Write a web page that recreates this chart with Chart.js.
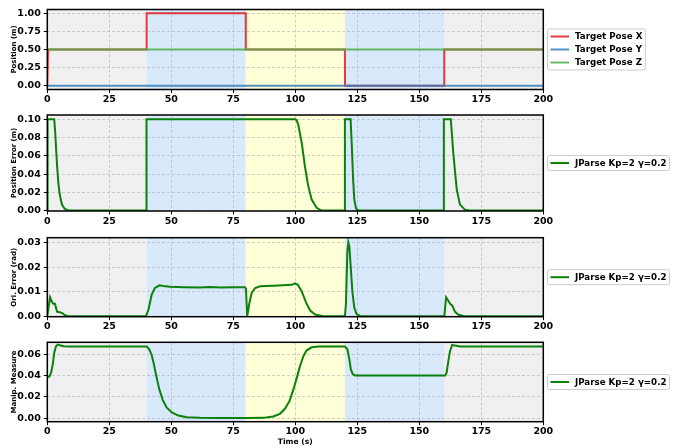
<!DOCTYPE html>
<html>
<head>
<meta charset="utf-8">
<script src="https://cdn.jsdelivr.net/npm/chart.js@4.4.0/dist/chart.umd.min.js"></script>
<style>
  body { margin: 0; background: #fff; }
  #wrap { position: relative; width: 675px; height: 447px; }
  #wrap canvas { position: absolute; left: 0; top: 0; }
</style>
</head>
<body>
<div id="wrap">
  <canvas id="c1" width="675" height="447"></canvas>
  <canvas id="c2" width="675" height="447"></canvas>
  <canvas id="c3" width="675" height="447"></canvas>
  <canvas id="c4" width="675" height="447"></canvas>
</div>
<script>
// x axis ticks (time, s)
const timeTicks = [0, 25, 50, 75, 100, 125, 150, 175, 200];

// background phases
const phaseStart = [0, 40, 80, 120, 160];
const phaseEnd = [40, 80, 120, 160, 200];
const phaseColor = ['#f0f0f0', '#d9e9fc', '#ffffd8', '#d9e9fc', '#f0f0f0'];

// panel 1: target pose
const poseXT = [0, 0.3, 40, 40.05, 80, 80.05, 120, 120.05, 160, 160.05, 200];
const poseXV = [0, 0.5, 0.5, 1, 1, 0.5, 0.5, 0, 0, 0.5, 0.5];
const poseYT = [0, 200];
const poseYV = [0, 0];
const poseZT = [0, 200];
const poseZV = [0.5, 0.5];
const poseTicks = [0, 0.25, 0.5, 0.75, 1];

// panel 2: position error
const posErrT = [0, 0.1, 2.8, 3.2, 3.6, 4.0, 4.4, 4.9, 5.4, 6.0, 7.0, 8.5, 39.9, 40.0,
  100.0, 100.5, 101.2, 102.6, 103.9, 105.2, 106.6, 108.6, 110.6, 119.9, 120.0,
  122.3, 122.8, 123.3, 123.8, 124.5, 125.5, 159.8, 159.9, 162.7, 163.7, 165.1, 166.4, 168.4, 170.0, 200];
const posErrV = [0, 0.1, 0.1, 0.085, 0.065, 0.047, 0.032, 0.02, 0.012, 0.006, 0.002, 0, 0, 0.1,
  0.1, 0.099, 0.094, 0.074, 0.048, 0.027, 0.012, 0.003, 0, 0, 0.1,
  0.1, 0.07, 0.035, 0.012, 0.002, 0, 0, 0.1, 0.1, 0.063, 0.023, 0.0065, 0.001, 0, 0];
const posErrTicks = [0, 0.02, 0.04, 0.06, 0.08, 0.1];

// panel 3: orientation error
const oriT = [0, 1.1, 1.8, 2.4, 3.1, 3.5, 4.0, 5.1, 6.2, 7.1, 8.5, 39.8, 40.8, 42.1, 43.4, 45.2,
  46.8, 49.5, 55, 61.6, 65.6, 70, 75, 79.7, 80.1, 80.6, 81.5, 82.4, 83.8, 85.8, 91.2, 98.6,
  99.9, 101.0, 102.6, 104.4, 106.0, 108.0, 110.7, 120.0, 120.4, 121.0, 121.4, 121.8, 122.3,
  123.0, 123.8, 124.7, 126.1, 160.1, 160.8, 161.4, 162.4, 163.3, 164.4, 165.7, 167.7, 200];
const oriV = [0, 0.0077, 0.006, 0.0051, 0.0051, 0.0034, 0.0018, 0.0016, 0.0012, 0.0004, 0, 0, 0.0027, 0.0088, 0.0115, 0.0126,
  0.0123, 0.012, 0.0118, 0.0117, 0.0119, 0.0117, 0.0118, 0.0118, 0.0112, 0, 0.0054, 0.0095, 0.0115, 0.0122, 0.0124, 0.0128,
  0.0134, 0.0128, 0.0101, 0.0054, 0.0023, 0.0007, 0.0001, 0, 0.0047, 0.0264, 0.0301, 0.0284, 0.0209,
  0.0101, 0.0034, 0.0009, 0.0001, 0, 0.0077, 0.0068, 0.0051, 0.0043, 0.0018, 0.0007, 0.0001, 0];
const oriTicks = [0, 0.01, 0.02, 0.03];

// panel 4: manipulability
const manT = [0, 0.8, 1.5, 2.2, 2.8, 3.5, 4.2, 5.1, 6.5, 9.1, 40.1, 41.1, 42.1, 43.0, 44.1, 45.2,
  46.5, 48.1, 50.1, 52.8, 56.2, 61.6, 70, 80, 87.1, 91.1, 93.8, 95.8, 97.6, 99.2, 100.6, 101.9,
  103.3, 104.6, 106.6, 109.3, 120.0, 121.0, 121.8, 122.4, 123.1, 124.1, 160.4, 161.0, 161.7,
  162.4, 163.3, 164.4, 166.4, 200];
const manV = [0.0389, 0.039, 0.0426, 0.0505, 0.0616, 0.0676, 0.0692, 0.0685, 0.0676, 0.0673, 0.0673, 0.0647, 0.0594, 0.0505, 0.0379, 0.0268,
  0.0174, 0.0101, 0.0057, 0.0025, 0.0009, 0.0003, 0.0001, 0.0001, 0.0003, 0.0016, 0.0041, 0.0088, 0.0158, 0.0268, 0.0379, 0.049,
  0.0584, 0.0638, 0.0666, 0.0673, 0.0673, 0.0647, 0.0553, 0.0458, 0.0417, 0.0401, 0.04, 0.0426, 0.0537,
  0.0632, 0.0688, 0.0682, 0.0673, 0.0673];
const manTicks = [0, 0.02, 0.04, 0.06];

const jLabel = 'JParse Kp=2 \u03b3=0.2';
const green = '#0b800b';

Chart.defaults.font.family = 'DejaVu Sans';
Chart.defaults.font.weight = 'bold';
Chart.defaults.color = '#000';

function pts(t, v) {
  return t.map((x, i) => ({ x: x, y: v[i] }));
}

// shaded phases behind the grid
const shade = {
  id: 'shade',
  beforeDraw(chart) {
    const ctx = chart.ctx, a = chart.chartArea, xs = chart.scales.x;
    ctx.save();
    for (let i = 0; i < phaseStart.length; i++) {
      const x0 = xs.getPixelForValue(phaseStart[i]);
      const x1 = xs.getPixelForValue(phaseEnd[i]);
      ctx.fillStyle = phaseColor[i];
      ctx.fillRect(x0, a.top, x1 - x0, a.bottom - a.top);
    }
    ctx.restore();
  }
};

// axes frame + boxed legend at the right
const frameLegend = {
  id: 'frameLegend',
  afterDraw(chart) {
    const ctx = chart.ctx, a = chart.chartArea;
    ctx.save();
    ctx.strokeStyle = '#000';
    ctx.lineWidth = 1.5;
    ctx.strokeRect(a.left, a.top, a.right - a.left, a.bottom - a.top);

    const items = chart.data.datasets.filter(d => d.label).sort((p, q) => p.legendIdx - q.legendIdx);
    ctx.font = 'bold 8.7px "DejaVu Sans"';
    let tw = 0;
    items.forEach(d => { tw = Math.max(tw, ctx.measureText(d.label).width); });
    const bx = 547.5, rowH = 13;
    const bh = items.length * rowH + 2;
    const bw = 575 - bx + tw + 3;
    const by = (a.top + a.bottom) / 2 - bh / 2;
    ctx.fillStyle = 'rgba(255,255,255,0.9)';
    ctx.strokeStyle = '#cccccc';
    ctx.lineWidth = 1;
    ctx.beginPath();
    ctx.roundRect(bx, by, bw, bh, 2);
    ctx.fill();
    ctx.stroke();
    items.forEach((d, i) => {
      const cy = by + 7.5 + i * rowH;
      ctx.strokeStyle = d.borderColor;
      ctx.lineWidth = 2;
      ctx.beginPath();
      ctx.moveTo(550.5, cy);
      ctx.lineTo(569, cy);
      ctx.stroke();
      ctx.fillStyle = '#000';
      ctx.textBaseline = 'middle';
      ctx.fillText(d.label, 575, cy + 0.5);
    });
    ctx.restore();
  }
};

function panel(id, datasets, opt) {
  return new Chart(document.getElementById(id), {
    type: 'line',
    data: { datasets: datasets },
    plugins: [shade, frameLegend],
    options: {
      responsive: false,
      animation: false,
      parsing: true,
      layout: { padding: { left: 0, right: 131.7, top: opt.top, bottom: opt.padBottom } },
      elements: { point: { radius: 0 }, line: { tension: 0, borderWidth: 2 } },
      plugins: { legend: { display: false }, tooltip: { enabled: false } },
      scales: {
        x: {
          type: 'linear', min: 0, max: 200,
          afterFit: s => { s.height = opt.xHeight; },
          afterBuildTicks: s => { s.ticks = timeTicks.map(v => ({ value: v })); },
          ticks: { font: { size: 9.5, weight: 'bold' }, padding: 1, maxRotation: 0 },
          grid: { color: 'rgba(170,170,170,0.7)', lineWidth: 0.8, tickColor: '#000', tickLength: 3.5, tickWidth: 1, tickBorderDash: [] },
          border: { display: false, dash: [3, 2] },
          title: opt.xTitle ? { display: true, text: 'Time (s)', font: { size: 7.6, weight: 'bold' }, padding: { top: 0, bottom: 0 } } : { display: false }
        },
        y: {
          min: opt.min, max: opt.max,
          afterFit: s => { s.width = 47.3; },
          afterBuildTicks: s => { s.ticks = opt.ticks.map(v => ({ value: v })); },
          ticks: { font: { size: 9.5, weight: 'bold' }, padding: 3, callback: v => v.toFixed(2) },
          grid: { color: 'rgba(170,170,170,0.7)', lineWidth: 0.8, tickColor: '#000', tickLength: 3.5, tickWidth: 1, tickBorderDash: [] },
          border: { display: false, dash: [3, 2] },
          title: { display: true, text: opt.yTitle, font: { size: 7, weight: 'bold' }, padding: { top: 10, bottom: 0 } }
        }
      }
    }
  });
}

panel('c1', [
  { label: 'Target Pose Z', legendIdx: 2, data: pts(poseZT, poseZV), borderColor: 'rgba(77,175,74,0.85)', order: 0 },
  { label: 'Target Pose Y', legendIdx: 1, data: pts(poseYT, poseYV), borderColor: 'rgba(55,126,184,0.85)', order: 1 },
  { label: 'Target Pose X', legendIdx: 0, data: pts(poseXT, poseXV), borderColor: 'rgba(228,26,28,0.85)', order: 2 }
], { top: 9.5, padBottom: 337.5, xHeight: 20, min: -0.05, max: 1.05, ticks: poseTicks, yTitle: 'Position (m)' });

panel('c2', [
  { label: jLabel, legendIdx: 0, data: pts(posErrT, posErrV), borderColor: green }
], { top: 115, padBottom: 216, xHeight: 20, min: -0.0005, max: 0.1047, ticks: posErrTicks, yTitle: 'Position Error (m)' });

panel('c3', [
  { label: jLabel, legendIdx: 0, data: pts(oriT, oriV), borderColor: green }
], { top: 237.7, padBottom: 110.3, xHeight: 20, min: -0.0002, max: 0.032, ticks: oriTicks, yTitle: 'Ori. Error (rad)' });

panel('c4', [
  { label: jLabel, legendIdx: 0, data: pts(manT, manV), borderColor: green }
], { top: 342.3, padBottom: 0, xHeight: 25.3, min: -0.0033, max: 0.0713, ticks: manTicks, yTitle: 'Manip. Measure', xTitle: true });
</script>
</body>
</html>
